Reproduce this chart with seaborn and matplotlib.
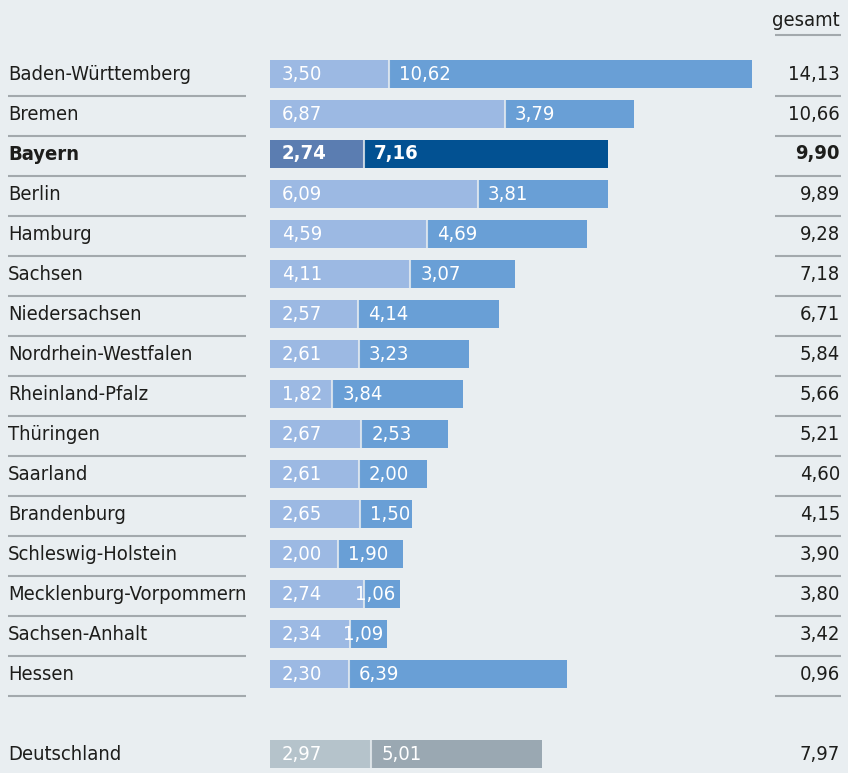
import numpy as np
import pandas as pd
import matplotlib
matplotlib.use("Agg")
import matplotlib.pyplot as plt
import seaborn as sns
from matplotlib import font_manager

laender = ['Baden-Württemberg', 'Bremen', 'Bayern', 'Berlin', 'Hamburg', 'Sachsen',
           'Niedersachsen', 'Nordrhein-Westfalen', 'Rheinland-Pfalz', 'Thüringen',
           'Saarland', 'Brandenburg', 'Schleswig-Holstein', 'Mecklenburg-Vorpommern',
           'Sachsen-Anhalt', 'Hessen', 'Deutschland']
teil1 = [3.50, 6.87, 2.74, 6.09, 4.59, 4.11, 2.57, 2.61, 1.82, 2.67, 2.61, 2.65, 2.00, 2.74, 2.34, 2.30, 2.97]
teil2 = [10.62, 3.79, 7.16, 3.81, 4.69, 3.07, 4.14, 3.23, 3.84, 2.53, 2.00, 1.50, 1.90, 1.06, 1.09, 6.39, 5.01]
gesamt = ['14,13', '10,66', '9,90', '9,89', '9,28', '7,18', '6,71', '5,84', '5,66', '5,21',
          '4,60', '4,15', '3,90', '3,80', '3,42', '0,96', '7,97']

sns.set_theme(style='white')
namen = [f.name for f in font_manager.fontManager.ttflist]
schrift = 'Liberation Sans Narrow' if 'Liberation Sans Narrow' in namen else 'DejaVu Sans'
plt.rcParams['font.family'] = [schrift, 'DejaVu Sans']
if schrift == 'DejaVu Sans':
    plt.rcParams['font.stretch'] = 'condensed'

bg = '#e9eef1'
hell = '#9cb9e3'
dunkel = '#699fd6'

pos = list(range(16)) + [17]
df = pd.DataFrame({'land': laender, 'pos': pos, 't1': teil1, 't2': teil2})
df['summe'] = df['t1'] + df['t2']

farben1 = [hell] * 17
farben2 = [dunkel] * 17
farben1[2], farben2[2] = '#5b7db1', '#025192'
farben1[16], farben2[16] = '#b5c3cb', '#9aa8b2'

fig = plt.figure(figsize=(8.48, 7.73), dpi=100, facecolor=bg)
ax = fig.add_axes([0, 0, 1, 1])
ax.set_facecolor(bg)

px = 34.14  # pixel pro einheit
ax.set_xlim(-270 / px, (848 - 270) / px)
ax.set_ylim((773 - 74) / 40, -74 / 40)

sns.barplot(data=df, x='summe', y='pos', hue='pos', palette=farben2, orient='h',
            native_scale=True, width=0.72, legend=False, ax=ax, saturation=1)
sns.barplot(data=df, x='t1', y='pos', hue='pos', palette=farben1, orient='h',
            native_scale=True, width=0.72, legend=False, ax=ax, saturation=1)
for b in ax.patches:
    b.set_edgecolor('none')

ax.vlines(df['t1'], df['pos'] - 0.36, df['pos'] + 0.36, color='#e9eef1', lw=1.5, alpha=0.8)

ax.set_axis_off()

fs = 14.5
for i, r in df.iterrows():
    fett = 'bold' if r['land'] == 'Bayern' else 'normal'
    y = r['pos']
    ax.text(8 / 848, y, r['land'], transform=ax.get_yaxis_transform(), ha='left', va='center',
            fontsize=fs, color='#1d1d1b', fontweight=fett)
    ax.text(840 / 848, y, gesamt[i], transform=ax.get_yaxis_transform(), ha='right', va='center',
            fontsize=fs, color='#1d1d1b', fontweight=fett)
    lab1 = f"{r['t1']:.2f}".replace('.', ',')
    lab2 = f"{r['t2']:.2f}".replace('.', ',')
    ax.text(12 / px, y, lab1, ha='left', va='center', fontsize=fs, color='white', fontweight=fett)
    if r['t2'] < 1.3:
        ax.text(r['summe'] - 4 / px, y, lab2, ha='right', va='center', fontsize=fs, color='white', fontweight=fett)
    else:
        ax.text(r['t1'] + 10 / px, y, lab2, ha='left', va='center', fontsize=fs, color='white', fontweight=fett)
    if r['land'] != 'Deutschland':
        ax.plot([8 / 848, 246 / 848], [y + 0.55, y + 0.55], transform=ax.get_yaxis_transform(),
                color='#a3a9ad', lw=1.5, solid_capstyle='butt')
        ax.plot([775 / 848, 841 / 848], [y + 0.55, y + 0.55], transform=ax.get_yaxis_transform(),
                color='#a3a9ad', lw=1.5, solid_capstyle='butt')

ax.text(840 / 848, 1 - 20 / 773, 'gesamt', transform=ax.transAxes, ha='right', va='center',
        fontsize=fs, color='#1d1d1b')
ax.plot([775 / 848, 841 / 848], [1 - 35 / 773, 1 - 35 / 773], transform=ax.transAxes,
        color='#a3a9ad', lw=1.5, solid_capstyle='butt')

fig.savefig('out.png', dpi=100, facecolor=bg)
